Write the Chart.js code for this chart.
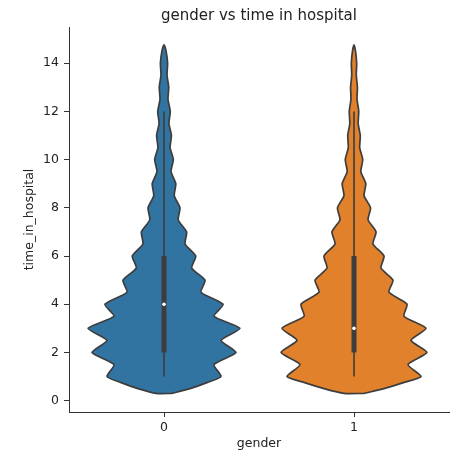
<!DOCTYPE html>
<html>
<head>
<meta charset="utf-8">
<title>gender vs time in hospital</title>
<script src="https://cdn.jsdelivr.net/npm/chart.js@4.4.1/dist/chart.umd.min.js"></script>
<style>
  html, body { margin: 0; padding: 0; background: #fff; }
  #wrap { width: 475px; height: 468px; }
</style>
</head>
<body>
<div id="wrap"><canvas id="myChart" width="475" height="468"></canvas></div>
<script>
// categories on the x axis and y tick values
const categories = ['0', '1'];
const yTicks = [0, 2, 4, 6, 8, 10, 12, 14];

// violin outline: half width (in x units) at each time_in_hospital level
const levels = [0.3, 0.5, 0.75, 1, 1.5, 2, 2.5, 3, 3.5, 4, 4.5, 5, 5.5, 6, 6.5, 7, 7.5,
  8, 8.5, 9, 9.5, 10, 10.5, 11, 11.5, 12, 12.5, 13, 13.5, 14, 14.5, 14.76];
const halfWidth0 = [0.042, 0.137, 0.226, 0.3, 0.263, 0.379, 0.3, 0.4, 0.263, 0.311, 0.195, 0.216, 0.146, 0.167, 0.111, 0.119, 0.075,
  0.084, 0.054, 0.062, 0.037, 0.049, 0.032, 0.039, 0.026, 0.033, 0.021, 0.025, 0.016, 0.019, 0.011, 0];
const halfWidth1 = [0.053, 0.158, 0.26, 0.353, 0.284, 0.384, 0.3, 0.379, 0.263, 0.279, 0.184, 0.205, 0.142, 0.158, 0.1, 0.116, 0.074,
  0.087, 0.053, 0.062, 0.036, 0.046, 0.03, 0.033, 0.022, 0.025, 0.016, 0.018, 0.012, 0.014, 0.008, 0];

// inner box plot
const whiskerLow = [1, 1];
const whiskerHigh = [12, 12];
const q1 = [2, 2];
const q3 = [6, 6];
const medians = [4, 3];

const fillColors = ['#3274a1', '#e1812c'];
const edge = '#3d3d3d';
const ink = '#222';

Chart.defaults.font.family = "'DejaVu Sans', sans-serif";

function outline(center, half) {
  const right = levels.map((y, i) => ({x: center + half[i], y: y}));
  const left = levels.map((y, i) => ({x: center - half[i], y: y})).reverse();
  return right.concat(left.slice(1), [right[0]]);
}

const datasets = [];
[halfWidth0, halfWidth1].forEach((half, i) => {
  datasets.push({
    data: outline(i, half),
    fill: 'shape',
    backgroundColor: fillColors[i],
    borderColor: edge,
    borderWidth: 1.7,
    tension: 0.2,
    pointRadius: 0,
    order: 3
  });
  datasets.push({
    data: [{x: i, y: whiskerLow[i]}, {x: i, y: whiskerHigh[i]}],
    borderColor: edge,
    borderWidth: 1.6,
    pointRadius: 0,
    fill: false,
    order: 2
  });
  datasets.push({
    data: [{x: i, y: q1[i]}, {x: i, y: q3[i]}],
    borderColor: edge,
    borderWidth: 5,
    borderCapStyle: 'butt',
    pointRadius: 0,
    fill: false,
    order: 1
  });
  datasets.push({
    data: [{x: i, y: medians[i]}],
    showLine: false,
    pointRadius: 1.8,
    pointBorderWidth: 0,
    pointBackgroundColor: '#fff',
    fill: false,
    order: 0
  });
});

const tickFont = {size: 12.5};

const myChart = new Chart(document.getElementById('myChart'), {
  type: 'line',
  data: {datasets: datasets},
  options: {
    responsive: false,
    animation: false,
    layout: {padding: {top: 0, right: 26, bottom: 0, left: 0}},
    plugins: {
      legend: {display: false},
      tooltip: {enabled: false},
      title: {
        display: true,
        fullSize: false,
        text: 'gender vs time in hospital',
        color: ink,
        font: {size: 15, weight: 'normal'},
        padding: {top: 7, bottom: 2}
      }
    },
    scales: {
      x: {
        type: 'linear',
        min: -0.5,
        max: 1.5,
        afterBuildTicks: s => { s.ticks = categories.map((c, i) => ({value: i})); },
        afterFit: s => { s.height = 56; },
        ticks: {callback: v => categories[v], color: ink, font: tickFont, padding: 3, maxRotation: 0},
        grid: {drawOnChartArea: false, drawTicks: true, tickLength: 5, color: '#333'},
        border: {display: true, color: '#333', width: 1},
        title: {display: true, text: 'gender', color: ink, font: tickFont, padding: {top: 0, bottom: 16.5}}
      },
      y: {
        type: 'linear',
        min: -0.47,
        max: 15.5,
        afterBuildTicks: s => { s.ticks = yTicks.map(v => ({value: v})); },
        afterFit: s => { s.width = 69; },
        ticks: {color: ink, font: tickFont, padding: 5},
        grid: {drawOnChartArea: false, drawTicks: true, tickLength: 5, color: '#333'},
        border: {display: true, color: '#333', width: 1},
        title: {display: true, text: 'time_in_hospital', color: ink, font: tickFont, padding: {top: 22, bottom: 0}}
      }
    }
  }
});
</script>
</body>
</html>
